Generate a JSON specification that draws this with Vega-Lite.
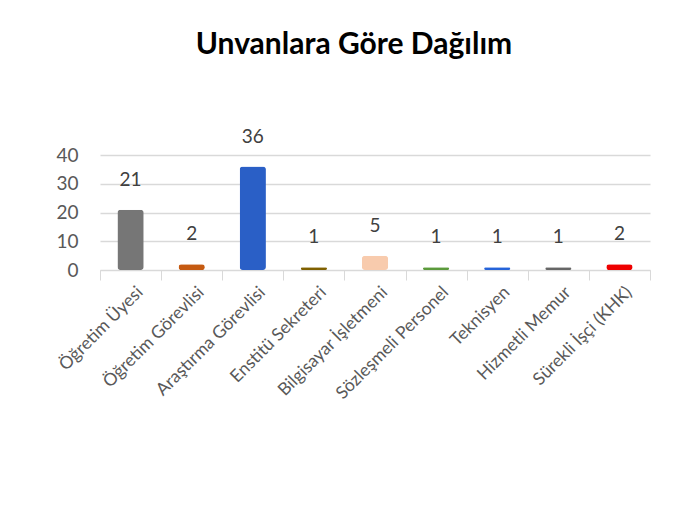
{
  "$schema": "https://vega.github.io/schema/vega-lite/v6.json",
  "width": 550,
  "height": 115,
  "autosize": {"type": "none"},
  "padding": {"left": 100, "top": 155, "right": 47, "bottom": 237},
  "background": "white",
  "title": {
    "text": "Unvanlara Göre Dağılım",
    "font": "Lato",
    "fontSize": 30,
    "fontWeight": "bold",
    "color": "#000000",
    "anchor": "middle",
    "dx": -21,
    "offset": 68
  },
  "config": {"view": {"stroke": null}},
  "data": {
    "values": [
      {"unvan": "Öğretim Üyesi", "sayi": 21, "renk": "#767676"},
      {"unvan": "Öğretim Görevlisi", "sayi": 2, "renk": "#c55a11"},
      {"unvan": "Araştırma Görevlisi", "sayi": 36, "renk": "#2a5fc6"},
      {"unvan": "Enstitü Sekreteri", "sayi": 1, "renk": "#7f6000"},
      {"unvan": "Bilgisayar İşletmeni", "sayi": 5, "renk": "#f8cbad"},
      {"unvan": "Sözleşmeli Personel", "sayi": 1, "renk": "#5b9a3b"},
      {"unvan": "Teknisyen", "sayi": 1, "renk": "#2563d9"},
      {"unvan": "Hizmetli Memur", "sayi": 1, "renk": "#666666"},
      {"unvan": "Sürekli İşçi (KHK)", "sayi": 2, "renk": "#ee0000"}
    ]
  },
  "encoding": {
    "x": {
      "field": "unvan",
      "type": "nominal",
      "sort": null,
      "scale": {"paddingInner": 0, "paddingOuter": 0},
      "axis": {
        "title": null,
        "tickBand": "extent",
        "tickSize": 10,
        "tickColor": "#d9d9d9",
        "domainColor": "#d9d9d9",
        "labelAngle": -45,
        "labelAlign": "right",
        "labelBaseline": "top",
        "labelFont": "Lato",
        "labelFontSize": 17.5,
        "labelColor": "#595959",
        "labelPadding": 3,
        "labelOffset": 3,
        "grid": false
      }
    },
    "y": {
      "field": "sayi",
      "type": "quantitative",
      "scale": {"domain": [0, 40]},
      "axis": {
        "title": null,
        "values": [0, 10, 20, 30, 40],
        "domain": false,
        "ticks": false,
        "gridColor": "#d9d9d9",
        "gridWidth": 1.5,
        "labelFont": "Lato",
        "labelFontSize": 19,
        "labelColor": "#595959",
        "labelPadding": 22
      }
    }
  },
  "layer": [
    {
      "mark": {"type": "bar", "width": {"band": 0.43}, "cornerRadius": 3},
      "encoding": {
        "color": {"field": "renk", "type": "nominal", "scale": null}
      }
    },
    {
      "mark": {"type": "text", "baseline": "bottom", "dy": -20, "font": "Lato", "fontSize": 19, "color": "#404040"},
      "encoding": {"text": {"field": "sayi", "type": "quantitative"}}
    }
  ]
}
